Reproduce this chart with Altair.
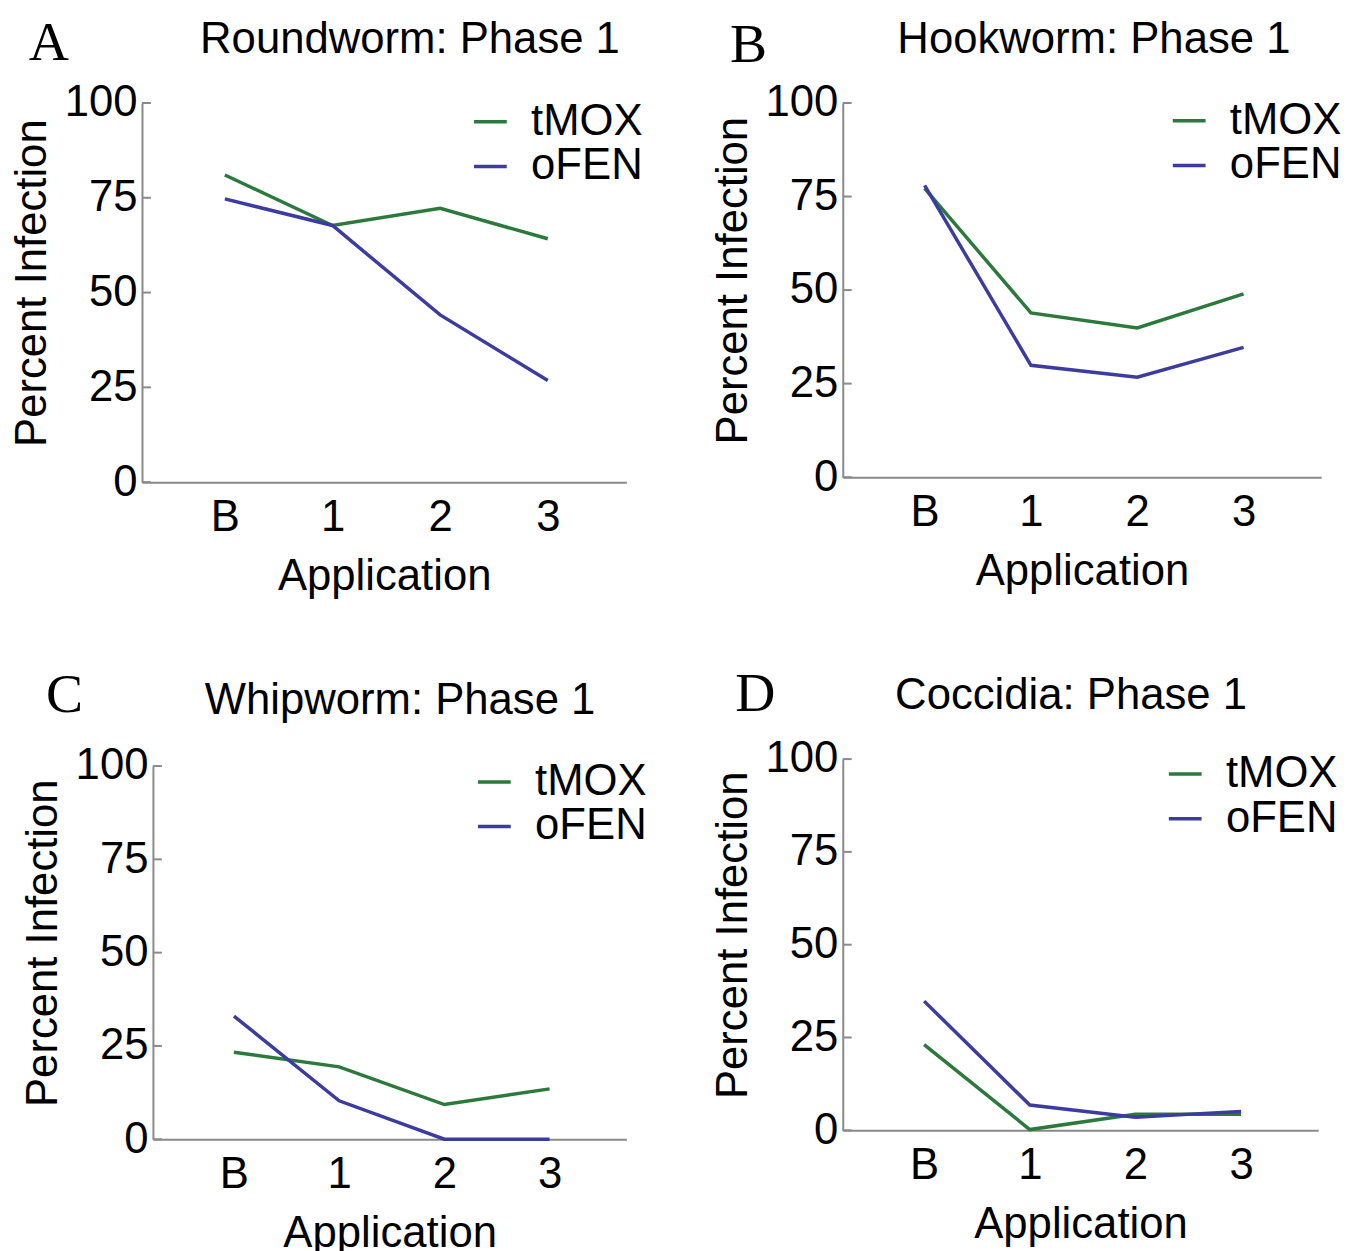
import altair as alt
import pandas as pd

# ---- data ----
app_labels = ["B", "1", "2", "3"]
app_pos = [1, 2, 3, 4]
series = ["tMOX", "oFEN"]
series_colors = ["#2b7a3c", "#3c3ca0"]
y_ticks = [0, 25, 50, 75, 100]

round_tmox = [81.0, 67.7, 72.2, 64.2]
round_ofen = [74.7, 67.7, 44.1, 26.8]
hook_tmox = [77.2, 43.9, 39.9, 49.0]
hook_ofen = [78.0, 29.9, 26.7, 34.7]
whip_tmox = [23.3, 19.4, 9.3, 13.5]
whip_ofen = [33.0, 10.3, 0.0, 0.0]
cocc_tmox = [23.1, 0.2, 4.3, 4.3]
cocc_ofen = [34.8, 6.8, 3.5, 5.1]

panel_titles = ["Roundworm: Phase 1", "Hookworm: Phase 1", "Whipworm: Phase 1", "Coccidia: Phase 1"]
panel_letters = ["A", "B", "C", "D"]

SANS = "Liberation Sans"
SERIF = "Liberation Serif"
AXIS_GRAY = "#8a8a8a"
FS = 44

label_expr = "[" + ",".join("'%s'" % s for s in app_labels) + "][datum.value - 1]"


def panel(letter, title, tmox, ofen, W, H, xo, title_pos, letter_pos, legend_pos):
    df = pd.DataFrame({
        "app": app_pos * 2,
        "value": list(tmox) + list(ofen),
        "series": [series[0]] * 4 + [series[1]] * 4,
    })
    xscale = alt.Scale(domain=[0.23, 4.73], range=[xo, W + xo], nice=False, zero=False)
    yscale = alt.Scale(domain=[0, 100], nice=False, zero=False)
    xaxis = alt.Axis(
        values=app_pos, labelExpr=label_expr, ticks=False, grid=False,
        domainColor=AXIS_GRAY, domainWidth=2, labelFontSize=FS, labelFont=SANS,
        labelColor="black", labelPadding=14, labelFlush=False,
        title="Application", titleFontSize=FS, titleFont=SANS, titleFontWeight="normal",
        titleColor="black", titlePadding=15,
    )
    yaxis = alt.Axis(
        values=y_ticks, ticks=False, grid=False, domainColor=AXIS_GRAY, domainWidth=2,
        labelFontSize=FS, labelFont=SANS, labelColor="black", labelPadding=5,
        labelFlush=False, offset=-xo,
        title="Percent Infection", titleFontSize=FS, titleFont=SANS,
        titleFontWeight="normal", titleColor="black", titlePadding=10, titleY=H / 2 - 10,
    )
    lines = alt.Chart(df).mark_line(strokeWidth=3.5).encode(
        x=alt.X("app:Q", scale=xscale, axis=xaxis),
        y=alt.Y("value:Q", scale=yscale, axis=yaxis),
        color=alt.Color(
            "series:N",
            scale=alt.Scale(domain=series, range=series_colors),
            sort=series,
            legend=alt.Legend(
                orient="none", legendX=legend_pos[0] + xo, legendY=legend_pos[1], title=None,
                symbolType="stroke", symbolSize=1089, symbolStrokeWidth=3.5,
                labelFontSize=FS, labelFont=SANS, labelColor="black", labelOffset=19,
                rowPadding=1, padding=0,
            ),
        ),
    )
    tick_df = pd.DataFrame({"value": y_ticks})
    ticks = alt.Chart(tick_df).mark_rule(color=AXIS_GRAY, strokeWidth=2).encode(
        y=alt.Y("value:Q", scale=yscale, axis=yaxis),
        x=alt.value(xo),
        x2=alt.value(xo + 9),
    )
    letter_mark = alt.Chart(pd.DataFrame({"t": [letter]})).mark_text(
        font=SERIF, fontSize=56, align="center", baseline="alphabetic", color="black"
    ).encode(text="t:N", x=alt.value(letter_pos[0] + xo), y=alt.value(letter_pos[1]))
    title_mark = alt.Chart(pd.DataFrame({"t": [title]})).mark_text(
        font=SANS, fontSize=FS, align="center", baseline="alphabetic", color="black"
    ).encode(text="t:N", x=alt.value(title_pos[0] + xo), y=alt.value(title_pos[1]))
    return alt.layer(ticks, lines, letter_mark, title_mark).properties(width=W + xo, height=H)


pA = panel(panel_letters[0], panel_titles[0], round_tmox, round_ofen, 488, 382, 0,
           (270, -50), (-94, -43), (329, -3))
pB = panel(panel_letters[1], panel_titles[1], hook_tmox, hook_ofen, 482, 377, 0,
           (253, -50), (-95, -41), (327, -4))
pC = panel(panel_letters[2], panel_titles[2], whip_tmox, whip_ofen, 477, 376, 11,
           (249, -52), (-89, -54), (322, -6))
pD = panel(panel_letters[3], panel_titles[3], cocc_tmox, cocc_ofen, 479, 374, 0,
           (230, -50), (-88, -48), (323, -7))

col1 = alt.vconcat(pA, pC, spacing=286, bounds="flush").resolve_scale(
    color="independent").resolve_legend(color="independent")
col2 = alt.vconcat(pB, pD, spacing=284, bounds="flush").resolve_scale(
    color="independent").resolve_legend(color="independent")

chart = alt.hconcat(col1, col2, spacing=706, bounds="flush").resolve_scale(
    color="independent").resolve_legend(color="independent").configure_view(
    stroke=None).properties(padding={"left": 2, "top": 3, "right": 5, "bottom": 5})

chart.save("out.html", embed_options={"renderer": "svg", "actions": False})
